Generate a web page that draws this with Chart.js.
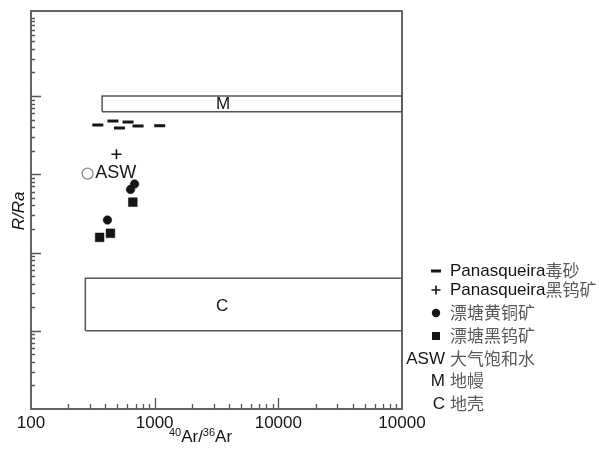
<!DOCTYPE html>
<html>
<head>
<meta charset="utf-8">
<script src="https://cdn.jsdelivr.net/npm/chart.js@4.4.1/dist/chart.umd.min.js"></script>
<style>
  html, body { margin: 0; padding: 0; background: #fff; }
</style>
</head>
<body>
<canvas id="chart" width="599" height="452"></canvas>
<script>
// ---- data -------------------------------------------------------------------

const xTickValues = [100, 1000, 10000, 100000];
const xTickLabels = ['100', '1000', '10000', '10000'];
const yMajorTicks = [0.01, 0.1, 1, 10];

// Panasqueira arsenopyrite (dashes)
const arsenoX = [347, 460, 519, 609, 734, 1098];
const arsenoY = [4.26, 4.79, 3.90, 4.65, 4.14, 4.17];
// Panasqueira wolframite (plus)
const panWolfX = [491];
const panWolfY = [1.80];
// Piaotang chalcopyrite (dots)
const chalcoX = [688, 638, 415];
const chalcoY = [0.75, 0.64, 0.26];
// Piaotang wolframite (squares)
const ptWolfX = [666, 359, 439];
const ptWolfY = [0.44, 0.156, 0.176];
// air saturated water
const aswX = [287];
const aswY = [1.02];

// mantle / crust fields
const mantleX = [376, 100000];
const mantleY = [6.3, 10];
const crustX = [275, 100000];
const crustY = [0.01, 0.047];

const fieldLabels = ['ASW', 'M', 'C'];
const fieldLabelX = [331, 3570, 3510];
const fieldLabelY = [1.03, 7.9, 0.0205];

const legendSymbols = ['line', 'cross', 'circle', 'rect', 'ASW', 'M', 'C'];
const legendLatin   = ['Panasqueira', 'Panasqueira', '', '', '', '', ''];
const legendChinese = ['毒砂', '黑钨矿', '漂塘黄铜矿', '漂塘黑钨矿', '大气饱和水', '地幔', '地壳'];

// ---- helpers ----------------------------------------------------------------

const LATIN = '"Liberation Sans", Arial, sans-serif';
const CJK = '"Noto Sans CJK SC", sans-serif';
const INK = '#151515';
const FRAME = '#555';

function pts(xs, ys) {
  return xs.map((x, i) => ({ x, y: ys[i] }));
}

function boxPts(xs, ys) {
  return [
    { x: xs[0], y: ys[0] }, { x: xs[1], y: ys[0] },
    { x: xs[1], y: ys[1] }, { x: xs[0], y: ys[1] },
    { x: xs[0], y: ys[0] }
  ];
}

// ---- decorations: frame, inward ticks, titles, labels, legend ---------------

const decor = {
  id: 'decor',
  afterDraw(chart) {
    const ctx = chart.ctx;
    const a = chart.chartArea;
    const xs = chart.scales.x, ys = chart.scales.y;
    ctx.save();

    // inward ticks
    ctx.strokeStyle = FRAME;
    ctx.lineWidth = 1.3;
    ctx.beginPath();
    for (let e = -3; e <= 2; e++) {
      for (let m = 1; m <= 9; m++) {
        const v = m * Math.pow(10, e);
        if (v <= ys.min || v >= ys.max) continue;
        const major = yMajorTicks.some(t => Math.abs(t - v) / t < 1e-6);
        const py = Math.round(ys.getPixelForValue(v)) + 0.5;
        ctx.moveTo(a.left, py);
        ctx.lineTo(a.left + (major ? 10 : 4), py);
      }
    }
    for (let e = 2; e <= 4; e++) {
      for (let m = 1; m <= 9; m++) {
        const v = m * Math.pow(10, e);
        if (v <= xs.min || v >= xs.max) continue;
        const major = m === 1;
        const px = Math.round(xs.getPixelForValue(v)) + 0.5;
        ctx.moveTo(px, a.bottom);
        ctx.lineTo(px, a.bottom - (major ? 11 : 5));
      }
    }
    ctx.stroke();

    // frame
    ctx.lineWidth = 1.8;
    ctx.strokeRect(a.left, a.top, a.right - a.left, a.bottom - a.top);

    // field labels (ASW, M, C)
    ctx.fillStyle = INK;
    ctx.textBaseline = 'middle';
    fieldLabels.forEach((t, i) => {
      const px = xs.getPixelForValue(fieldLabelX[i]);
      const py = ys.getPixelForValue(fieldLabelY[i]);
      ctx.font = (i === 0 ? '18px ' : '17px ') + LATIN;
      ctx.textAlign = i === 0 ? 'left' : 'center';
      ctx.fillText(t, px, py);
    });

    // x axis title 40Ar/36Ar
    const parts = [['40', 11, -6], ['Ar/', 17, 0], ['36', 11, -6], ['Ar', 17, 0]];
    let w = 0;
    parts.forEach(p => { ctx.font = p[1] + 'px ' + LATIN; w += ctx.measureText(p[0]).width; });
    let cx = (a.left + a.right) / 2 - 16 - w / 2;
    ctx.textAlign = 'left';
    ctx.textBaseline = 'alphabetic';
    parts.forEach(p => {
      ctx.font = p[1] + 'px ' + LATIN;
      ctx.fillText(p[0], cx, 442 + p[2]);
      cx += ctx.measureText(p[0]).width;
    });

    // y axis title R/Ra
    ctx.save();
    ctx.translate(19, (a.top + a.bottom) / 2 + 1);
    ctx.rotate(-Math.PI / 2);
    ctx.font = 'italic 17px ' + LATIN;
    ctx.textAlign = 'center';
    ctx.textBaseline = 'middle';
    ctx.fillText('R/Ra', 0, 0);
    ctx.restore();

    // legend
    const rowY = [271, 290, 313, 336, 359, 381, 404];
    const symX = 436, textX = 450;
    legendSymbols.forEach((s, i) => {
      const y = rowY[i];
      ctx.fillStyle = INK;
      ctx.strokeStyle = INK;
      if (s === 'line') {
        ctx.lineWidth = 3;
        ctx.beginPath(); ctx.moveTo(symX - 5, y); ctx.lineTo(symX + 5, y); ctx.stroke();
      } else if (s === 'cross') {
        ctx.lineWidth = 1.6;
        ctx.beginPath();
        ctx.moveTo(symX - 4.5, y); ctx.lineTo(symX + 4.5, y);
        ctx.moveTo(symX, y - 4.5); ctx.lineTo(symX, y + 4.5);
        ctx.stroke();
      } else if (s === 'circle') {
        ctx.beginPath(); ctx.arc(symX, y, 4.2, 0, Math.PI * 2); ctx.fill();
      } else if (s === 'rect') {
        ctx.fillRect(symX - 4, y - 4, 8, 8);
      } else {
        ctx.font = '17px ' + LATIN;
        ctx.textAlign = 'right';
        ctx.textBaseline = 'middle';
        ctx.fillText(s, 445, y);
      }
      let tx = textX;
      ctx.textAlign = 'left';
      ctx.textBaseline = 'middle';
      if (legendLatin[i]) {
        ctx.font = '17px ' + LATIN;
        ctx.fillStyle = INK;
        ctx.fillText(legendLatin[i], tx, y);
        tx += ctx.measureText(legendLatin[i]).width;
      }
      ctx.font = '17px ' + CJK;
      ctx.fillStyle = '#5a5a5a';
      ctx.fillText(legendChinese[i], tx, y);
    });

    ctx.restore();
  }
};

// ---- chart ------------------------------------------------------------------

new Chart(document.getElementById('chart'), {
  type: 'scatter',
  data: {
    datasets: [
      { label: 'Panasqueira毒砂', data: pts(arsenoX, arsenoY), pointStyle: 'line',
        pointRadius: 5.5, borderWidth: 3, borderColor: INK, backgroundColor: INK },
      { label: 'Panasqueira黑钨矿', data: pts(panWolfX, panWolfY), pointStyle: 'cross',
        pointRadius: 5, borderWidth: 1.6, borderColor: INK, backgroundColor: INK },
      { label: '漂塘黄铜矿', data: pts(chalcoX, chalcoY), pointStyle: 'circle',
        pointRadius: 4.3, borderWidth: 0.5, borderColor: INK, backgroundColor: INK },
      { label: '漂塘黑钨矿', data: pts(ptWolfX, ptWolfY), pointStyle: 'rect',
        pointRadius: 6.2, borderWidth: 0.5, borderColor: INK, backgroundColor: INK },
      { label: '大气饱和水', data: pts(aswX, aswY), pointStyle: 'circle',
        pointRadius: 5.5, borderWidth: 1.3, borderColor: '#8a8a8a', backgroundColor: 'rgba(0,0,0,0)' },
      { label: '地幔', data: boxPts(mantleX, mantleY), showLine: true, pointRadius: 0,
        borderWidth: 1.5, borderColor: FRAME, fill: false },
      { label: '地壳', data: boxPts(crustX, crustY), showLine: true, pointRadius: 0,
        borderWidth: 1.5, borderColor: FRAME, fill: false }
    ]
  },
  options: {
    responsive: false,
    animation: false,
    // tick padding counts twice in the axis height: 4.5 + 20.4 + 4.5
    layout: { padding: { left: 31, top: 11, right: 197, bottom: 13.6 } },
    plugins: { legend: { display: false }, tooltip: { enabled: false } },
    scales: {
      x: {
        type: 'logarithmic',
        min: 100,
        max: 100000,
        grid: { display: false, drawTicks: false },
        border: { display: false },
        afterBuildTicks: s => { s.ticks = xTickValues.map(v => ({ value: v })); },
        ticks: {
          autoSkip: false,
          maxRotation: 0,
          padding: 4.5,
          color: INK,
          font: { family: LATIN, size: 17 },
          callback: (v, i) => xTickLabels[i]
        }
      },
      y: {
        type: 'logarithmic',
        min: 0.001,
        max: 122,
        grid: { display: false, drawTicks: false },
        border: { display: false },
        ticks: { display: false }
      }
    }
  },
  plugins: [decor]
});
</script>
</body>
</html>
